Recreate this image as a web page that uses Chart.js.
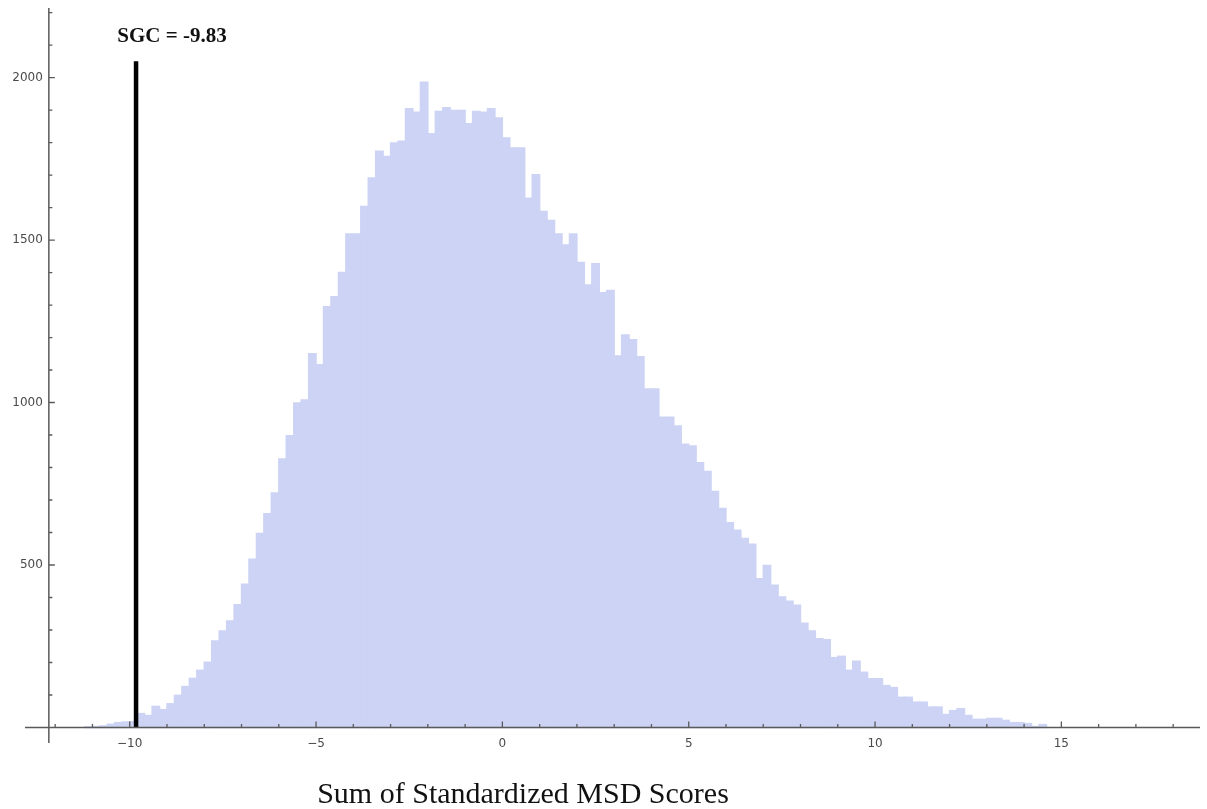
<!DOCTYPE html>
<html>
<head>
<meta charset="utf-8">
<title>Sum of Standardized MSD Scores</title>
<script src="https://cdn.jsdelivr.net/npm/chart.js@4/dist/chart.umd.min.js"></script>
<style>
    html, body { margin: 0; padding: 0; background: #ffffff; }
    canvas { display: block; }
</style>
</head>
<body>
<canvas id="msdChart" width="1207" height="809"></canvas>
<script>
// Histogram of summed standardized MSD scores, bins of 0.2 starting at -11.2
const BIN_START = -11.2;
const BIN_WIDTH = 0.2;
const COUNTS = [
    2, 3, 5, 10, 15, 17, 18, 43, 37, 65,
    55, 73, 99, 126, 151, 176, 201, 266, 297, 328,
    378, 441, 518, 597, 658, 722, 826, 898, 999, 1008,
    1150, 1116, 1295, 1326, 1400, 1519, 1519, 1603, 1691, 1773,
    1757, 1799, 1804, 1904, 1893, 1986, 1827, 1896, 1907, 1899,
    1899, 1858, 1896, 1893, 1904, 1876, 1814, 1783, 1783, 1629,
    1701, 1588, 1560, 1519, 1485, 1519, 1431, 1362, 1427, 1338,
    1345, 1143, 1208, 1193, 1141, 1042, 1042, 955, 955, 928,
    872, 866, 815, 788, 726, 674, 630, 607, 582, 564,
    458, 499, 438, 402, 389, 376, 321, 297, 273, 270,
    215, 219, 176, 204, 170, 150, 150, 129, 123, 93,
    93, 78, 78, 63, 63, 40, 52, 58, 37, 25,
    25, 28, 28, 22, 15, 15, 12, 3, 9
];

// Observed statistic marked with a vertical line
const SGC_VALUE = -9.83;
const SGC_LINE_TOP = 2050;
const SGC_LABEL = 'SGC = -9.83';

// Axes
const X_RANGE = [-12.81, 18.72];
const Y_RANGE = [-47.7, 2214];
const AXIS_ORIGIN_X = -12.17;
const X_MAJOR_TICKS = [-10, -5, 0, 5, 10, 15];
const X_TICK_LABELS = ['\u221210', '\u22125', '0', '5', '10', '15'];
const X_MINOR_TICKS = [-12, -11, -9, -8, -7, -6, -4, -3, -2, -1, 1, 2, 3, 4, 6, 7, 8, 9, 11, 12, 13, 14, 16, 17, 18];
const Y_MAJOR_TICKS = [500, 1000, 1500, 2000];
const Y_TICK_LABELS = ['500', '1000', '1500', '2000'];
const Y_MINOR_STEP = 100;
const X_TITLE = 'Sum of Standardized MSD Scores';

const histData = COUNTS.map((c, i) => ({ x: BIN_START + BIN_WIDTH * (i + 0.5), y: c }));

// Axes, ticks and labels drawn Mathematica-style on top of the bars
const axesPlugin = {
    id: 'mathAxes',
    afterDatasetsDraw(chart) {
        const { ctx, chartArea, scales } = chart;
        const xs = scales.x, ys = scales.y;
        const x0 = xs.getPixelForValue(AXIS_ORIGIN_X);
        const y0 = ys.getPixelForValue(0);

        ctx.save();
        ctx.strokeStyle = '#5a5a5a';
        ctx.lineWidth = 1.5;

        // axis lines
        ctx.beginPath();
        ctx.moveTo(chartArea.left, y0);
        ctx.lineTo(chartArea.right, y0);
        ctx.moveTo(x0, chartArea.top);
        ctx.lineTo(x0, chartArea.bottom);
        ctx.stroke();

        // x ticks (pointing up into the plot)
        ctx.lineWidth = 1.3;
        ctx.beginPath();
        X_MAJOR_TICKS.forEach(v => {
            const px = xs.getPixelForValue(v);
            ctx.moveTo(px, y0);
            ctx.lineTo(px, y0 - 6);
        });
        X_MINOR_TICKS.forEach(v => {
            const px = xs.getPixelForValue(v);
            ctx.moveTo(px, y0);
            ctx.lineTo(px, y0 - 3.5);
        });

        // y ticks (pointing right)
        for (let v = Y_MINOR_STEP; v <= Y_RANGE[1]; v += Y_MINOR_STEP) {
            const py = ys.getPixelForValue(v);
            const len = Y_MAJOR_TICKS.includes(v) ? 6 : 3.5;
            ctx.moveTo(x0, py);
            ctx.lineTo(x0 + len, py);
        }
        ctx.stroke();

        // tick labels
        ctx.fillStyle = '#4a4a4a';
        ctx.font = '12px "DejaVu Sans", sans-serif';
        ctx.textBaseline = 'middle';
        ctx.textAlign = 'center';
        X_MAJOR_TICKS.forEach((v, i) => {
            ctx.fillText(X_TICK_LABELS[i], xs.getPixelForValue(v), y0 + 16);
        });
        ctx.textAlign = 'right';
        Y_MAJOR_TICKS.forEach((v, i) => {
            ctx.fillText(Y_TICK_LABELS[i], x0 - 6, ys.getPixelForValue(v));
        });

        // label above the SGC line
        const sx = xs.getPixelForValue(SGC_VALUE);
        const sy = ys.getPixelForValue(SGC_LINE_TOP);
        ctx.fillStyle = '#111111';
        ctx.font = 'bold 21px "Liberation Serif", "Times New Roman", serif';
        ctx.textAlign = 'center';
        ctx.textBaseline = 'alphabetic';
        ctx.fillText(SGC_LABEL, sx + 36, sy - 19);

        // axis title
        ctx.font = '30px "Liberation Serif", "Times New Roman", serif';
        ctx.fillText(X_TITLE, 523, 803);
        ctx.restore();
    }
};

new Chart(document.getElementById('msdChart'), {
    type: 'bar',
    data: {
        datasets: [
            {
                type: 'line',
                label: 'SGC',
                data: [{ x: SGC_VALUE, y: 0 }, { x: SGC_VALUE, y: SGC_LINE_TOP }],
                borderColor: '#000000',
                borderWidth: 4.5,
                pointRadius: 0,
                fill: false,
                order: 0
            },
            {
                type: 'bar',
                label: 'Count',
                data: histData,
                backgroundColor: 'rgb(204, 211, 245)',
                borderWidth: 0,
                barPercentage: 1,
                categoryPercentage: 1,
                inflateAmount: 0.7,
                order: 1
            }
        ]
    },
    options: {
        responsive: false,
        animation: false,
        layout: { padding: { left: 25, right: 7, top: 8, bottom: 66 } },
        plugins: {
            legend: { display: false },
            tooltip: { enabled: false }
        },
        scales: {
            x: { type: 'linear', min: X_RANGE[0], max: X_RANGE[1], offset: false, display: false },
            y: { type: 'linear', min: Y_RANGE[0], max: Y_RANGE[1], display: false }
        }
    },
    plugins: [axesPlugin]
});
</script>
</body>
</html>
